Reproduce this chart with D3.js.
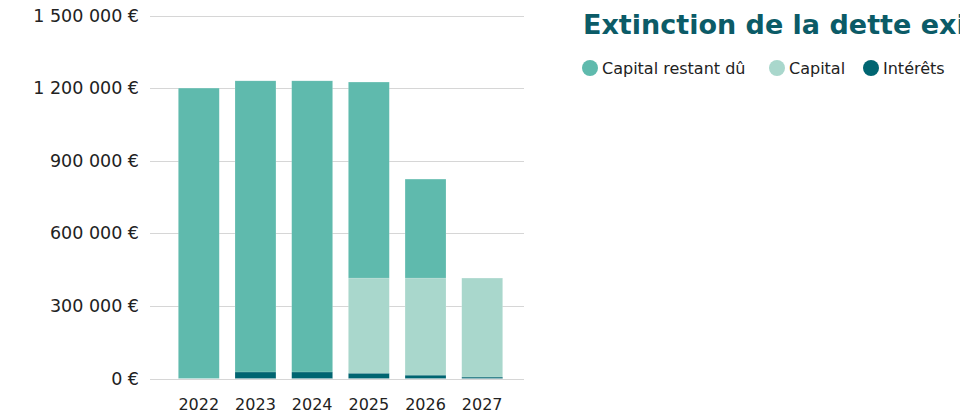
<!DOCTYPE html>
<html>
<head>
    <meta charset='utf-8'>
    <title>Extinction de la dette</title>
    <style type="text/css">
        body { margin: 0; background: #fff; }
        svg { display: block; font-family: "DejaVu Sans", sans-serif; }
        .grid line { stroke: #d6d6d6; stroke-width: 1; }
        .yaxis text { fill: #222; font-size: 17.5px; }
        .xaxis text { fill: #222; font-size: 16px; }
        .legend text { fill: #222; font-size: 16px; }
    </style>
</head>
<body>
    <script src="https://cdn.jsdelivr.net/npm/d3@7"></script>

    <div id="svgContainer"></div>

    <script type="text/javascript">

        const years = ["2022", "2023", "2024", "2025", "2026", "2027"];
        const capitalRestantDu = [1200000, 1203000, 1203000, 810000, 409000, 0];
        const capital = [0, 0, 0, 393000, 401000, 409000];
        const interets = [0, 27000, 27000, 22000, 14000, 6000];
        const yTicks = [0, 300000, 600000, 900000, 1200000, 1500000];

        const seriesNames = ["Capital restant dû", "Capital", "Intérêts"];
        const colors = ["#5fbaad", "#a9d7cc", "#006571"];

        const width = 960;
        const height = 415;

        const svg = d3.select("#svgContainer").append("svg")
            .attr("width", width)
            .attr("height", height);

        const rows = years.map((y, i) => ({
            year: y,
            "Intérêts": interets[i],
            "Capital": capital[i],
            "Capital restant dû": capitalRestantDu[i]
        }));

        // bottom to top
        const stack = d3.stack().keys(["Intérêts", "Capital", "Capital restant dû"]);
        const stacked = stack(rows);

        const x = d3.scaleBand()
            .domain(years)
            .range([150, 531])
            .paddingInner(0.278)
            .paddingOuter(0.5);

        const y = d3.scaleLinear()
            .domain([0, 1500000])
            .range([378.5, 15.5]);

        const fmt = v => d3.format(",")(v).replace(/,/g, " ") + " €";

        // grid
        svg.append("g")
            .attr("class", "grid")
            .selectAll("line")
            .data(yTicks)
            .join("line")
            .attr("x1", 150)
            .attr("x2", 524)
            .attr("y1", d => Math.round(y(d)) + 0.5)
            .attr("y2", d => Math.round(y(d)) + 0.5);

        // y labels
        svg.append("g")
            .attr("class", "yaxis")
            .selectAll("text")
            .data(yTicks)
            .join("text")
            .attr("x", 139)
            .attr("y", d => y(d))
            .attr("dy", "0.35em")
            .attr("text-anchor", "end")
            .text(fmt);

        const colorOf = k => colors[seriesNames.indexOf(k)];

        svg.append("g")
            .selectAll("g")
            .data(stacked)
            .join("g")
            .attr("fill", d => colorOf(d.key))
            .selectAll("rect")
            .data(d => d.filter(p => p[1] > p[0]))
            .join("rect")
            .attr("x", d => x(d.data.year))
            .attr("width", x.bandwidth())
            .attr("y", d => y(d[1]))
            .attr("height", d => y(d[0]) - y(d[1]))
            .attr("stroke", "#fff")
            .attr("stroke-opacity", 0.3)
            .attr("stroke-width", 0.5);

        // x labels
        svg.append("g")
            .attr("class", "xaxis")
            .selectAll("text")
            .data(years)
            .join("text")
            .attr("x", d => x(d) + x.bandwidth() / 2)
            .attr("y", 410)
            .attr("text-anchor", "middle")
            .text(d => d);

        // title (runs past the right edge, as in the original)
        svg.append("text")
            .attr("x", 583)
            .attr("y", 34)
            .attr("fill", "#0b5b67")
            .attr("font-size", "27px")
            .attr("font-weight", "bold")
            .text("Extinction de la dette existante");

        // legend
        const legendX = [582, 769, 863];
        const legend = svg.append("g")
            .attr("class", "legend")
            .selectAll("g")
            .data(seriesNames)
            .join("g")
            .attr("transform", (d, i) => `translate(${legendX[i]},68)`);

        legend.append("circle")
            .attr("cx", 8)
            .attr("cy", 0)
            .attr("r", 8)
            .attr("fill", (d, i) => colors[i]);

        legend.append("text")
            .attr("x", 20)
            .attr("dy", "0.35em")
            .text(d => d);

    </script>
</body>
</html>
